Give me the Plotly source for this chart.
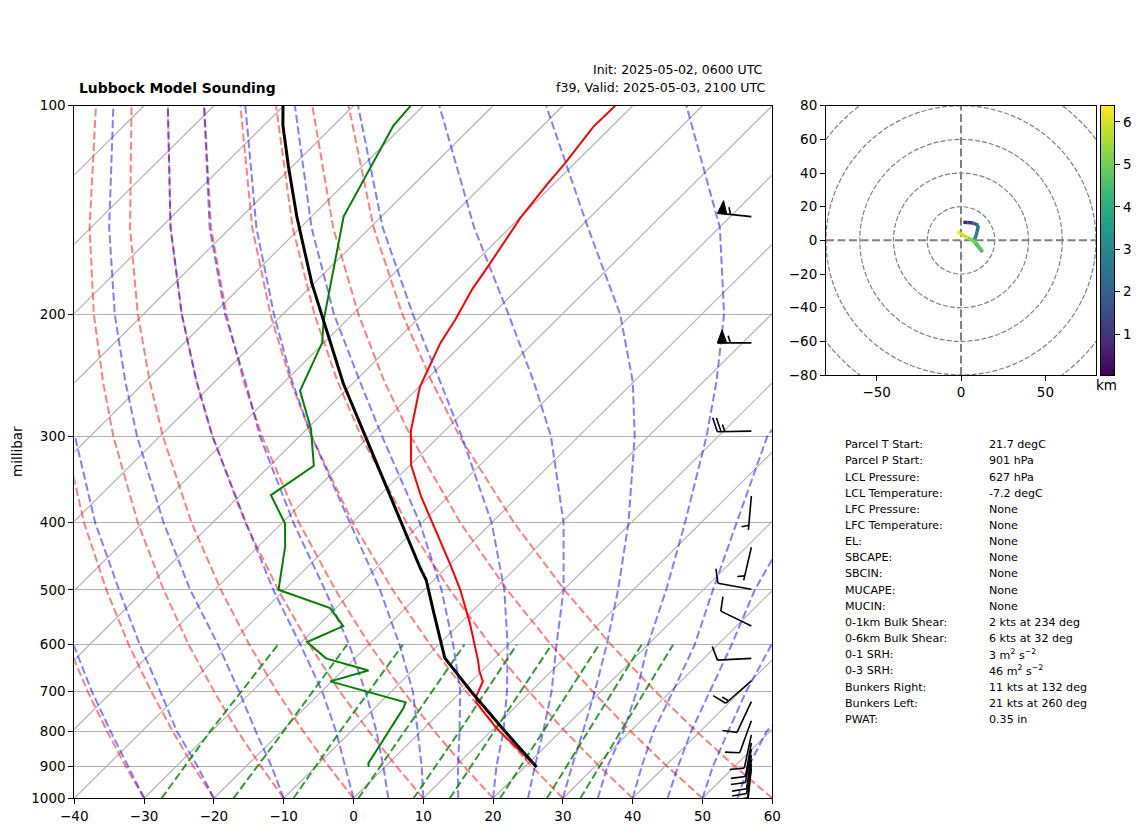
import numpy as np
import plotly.graph_objects as go
from plotly.colors import sample_colorscale

FIG_W = 1126
FIG_H = 816
PAGE_PAD = 8
FONT = "DejaVu Sans"

# sounding traces
TEMP_P = [901, 792.5, 728, 713.4, 678, 656, 631, 559, 500, 460, 366, 330, 295, 254.6, 220, 203.8, 184, 171, 145, 130, 121, 107.2, 100]
TEMP_C = [21.7, 10.4, 3.85, 2.9, 1.66, -0.26, -2.17, -8.58, -14.8, -19.85, -34.0, -39.9, -44.8, -49.9, -53.3, -54.5, -56.5, -57.5, -59.9, -60.9, -61.4, -62.6, -62.5]
DEWP_P = [901, 890, 837.6, 766, 741, 727, 678, 654, 628, 595, 564, 531.5, 500, 433, 401, 365, 331, 293, 258, 220, 204, 144.6, 131, 106.9, 100]
DEWP_C = [-2.35, -2.93, -3.9, -5.36, -5.86, -6.38, -20.2, -16.3, -24.15, -29.2, -26.34, -30.8, -40.85, -46.14, -49.5, -55.6, -53.7, -59.4, -66.5, -70.25, -73.3, -85.4, -87.4, -91.4, -91.8]
PARCEL_P = [901, 800, 700, 627, 535, 484, 465, 355, 300, 251.6, 204, 180.4, 144.6, 122.5, 106.7, 100]
PARCEL_C = [21.7, 12.0, 1.3, -7.2, -15.75, -21.1, -23.7, -40.2, -50.6, -61.4, -73.4, -80.35, -92.1, -100.5, -107.3, -110.1]

# background lines
ISOTHERMS = [-140, -130, -120, -110, -100, -90, -80, -70, -60, -50, -40, -30, -20, -10, 0, 10, 20, 30, 40, 50]
LEVELS = [1000, 900, 800, 700, 600, 500, 400, 300, 250, 200, 150, 100]

DRY_M30 = [-30, -37.2, -45.0, -53.6, -63.1, -73.7]
DRY_M20 = [-20, -27.5, -35.6, -44.5, -54.4, -65.5, -78.4, -93.7]
DRY_M10 = [-10, -17.8, -26.3, -35.5, -45.8, -57.3, -70.7, -86.7, -96.1, -107.1, -120.2, -136.9]
DRY_0 = [0, -8.1, -16.9, -26.5, -37.1, -49.1, -63.0, -79.6, -89.4, -100.8, -114.4, -131.8]
DRY_10 = [10, 1.6, -7.5, -17.5, -28.5, -40.9, -55.3, -72.5, -82.7, -94.5, -108.6, -126.6]
DRY_20 = [20, 11.3, 1.9, -8.4, -19.9, -32.7, -47.6, -65.4, -75.95, -88.1, -102.8, -121.4]
DRY_30 = [30, 21.0, 11.3, 0.6, -11.2, -24.5, -39.9, -58.3, -69.2, -81.8, -96.9, -116.2]
DRY_40 = [40, 30.7, 20.6, 9.6, -2.6, -16.3, -32.2, -51.2, -62.5, -75.5, -91.1, -111.1]
DRY_50 = [50, 40.4, 30.0, 18.7, 6.1, -8.1, -24.5, -44.1, -55.8, -69.2, -85.3, -105.9]
DRY_60 = [60, 50.1, 39.4, 27.7, 14.7, 0.1, -16.8, -37.1, -49, -62.9, -79.5, -100.7]

MOIST_M30 = [-30, -36.9, -44.5, -53, -62.3, -73]
MOIST_M20 = [-20, -26.9, -35, -43.2, -52.8, -63.7, -76.8, -92.2]
MOIST_M10 = [-10, -16.3, -23.7, -31.9, -41.6, -53.5, -67, -83.3, -92.9, -104.1, -117.4, -134.4]
MOIST_0 = [0, -5.8, -12.2, -20, -29.8, -41.6, -55.2, -72.5, -82.7, -94.5, -108.6, -126.6]
MOIST_5 = [5, -0.3, -6.4, -13.8, -22.8, -34.2, -48.4, -65.7, -75.7, -88.3, -103, -121.4]
MOIST_10 = [10, 5.2, -0.5, -7, -15.6, -26.3, -40.3, -58.3, -69, -81.3, -96.3, -115.5]
MOIST_15 = [15, 10.4, 5.5, -0.2, -7.9, -17.5, -30.3, -48.2, -59.3, -72.7, -88.4, -108.4]
MOIST_20 = [20, 15.9, 11.8, 6.5, -0.1, -8.5, -20, -36.8, -47.8, -61.4, -78.2, -99.35]
MOIST_25 = [25, 21.4, 17.5, 12.9, 6.9, 0, -9.7, -24, -34.4, -47.7, -65.1, -87.7]
MOIST_30 = [30, 26.7, 23.2, 19.1, 14.1, 7.8, -0.4, -12, -20.2, -31.7, -48.8, -72.4]
MOIST_35 = [35, 31.8, 29, 25.1, 20, 14.7, 7.7, -1.7, -8.2, -16.8, -29.9, -52.3]
MOIST_40 = [40, 36.7, 33.3, 30.3, 26.7, 21.4, 15.1, 7, 5, -5]
MOIST_45 = [45, 41.9, 38.7, 35.6, 32, 27.4, 23.2]
MOIST_50 = [50, 46.9, 44, 40.8, 37.7, 36]
MOIST_55 = [55, 52, 49.5, 50]

MIX_LEVELS = [1000, 800, 600]
MIX_1 = [-27.5, -30.2, -33.0]
MIX_2 = [-17.2, -19.7, -23.1]
MIX_3 = [-8.6, -11.6, -15.1]
MIX_4 = [0.7, -2.4, -6.3]
MIX_5 = [8.6, 5.5, 1.2]
MIX_6 = [13.8, 10.5, 6.2]
MIX_7 = [21, 17.5, 13]
MIX_8 = [27.7, 23.9, 19.1]
MIX_9 = [32.5, 28.6, 23.6]

# wind barbs
BARB_P = [144.6, 220, 295, 366, 434, 499, 564, 628, 677, 725, 773, 810, 832, 849, 866, 880, 892, 904]
BARB_KT = [55, 55, 25, 5, 5, 10, 10, 10, 15, 10, 10, 10, 10, 10, 10, 10, 10, 10]
BARB_DIR = [276, 270, 269, 185, 193, 280, 296, 267, 229, 205, 200, 192, 190, 190, 188, 188, 186, 186]

# hodograph
HODO_U = [1.4, 4, 7.3, 10.3, 9.5, 8.3, 7.3, 10, 12.8, 9, 4, -0.5, -2]
HODO_V = [10.7, 10.6, 10.3, 8.9, 5, 1, 0, -3.5, -6.9, -1.5, 1.5, 4, 5.3]
HODO_KM = [0.1, 0.6, 1.2, 1.9, 2.3, 2.7, 3.0, 3.6, 4.2, 4.7, 5.2, 5.9, 6.35]
HODO_RINGS = [20, 40, 60, 80, 100]
KM_MIN, KM_MAX = 0.04, 6.38

STAT_LABELS = [
    "Parcel T Start:", "Parcel P Start:", "LCL Pressure:", "LCL Temperature:",
    "LFC Pressure:", "LFC Temperature:", "EL:", "SBCAPE:", "SBCIN:", "MUCAPE:",
    "MUCIN:", "0-1km Bulk Shear:", "0-6km Bulk Shear:", "0-1 SRH:", "0-3 SRH:",
    "Bunkers Right:", "Bunkers Left:", "PWAT:",
]
STAT_VALUES = [
    "21.7 degC", "901 hPa", "627 hPa", "-7.2 degC", "None", "None", "None", "None",
    "None", "None", "None", "2 kts at 234 deg", "6 kts at 32 deg",
    "3 m<sup>2</sup> s<sup>−2</sup>", "46 m<sup>2</sup> s<sup>−2</sup>",
    "11 kts at 132 deg", "21 kts at 260 deg", "0.35 in",
]

PX_PER_DEG = 6.98
PX_PER_DECADE = 692.6
BARB_X = 57


def px_x(px):
    return (px - PAGE_PAD) / FIG_W


def px_y(py):
    return 1 - (py - PAGE_PAD) / FIG_H


def skew(temp, pres):
    return np.asarray(temp, float) + 100 * np.log10(1000 / np.asarray(pres, float))


def add_curve(fig, temp, pres, color, width, dash=None):
    line = {"color": color, "width": width}
    if dash:
        line["dash"] = dash
    fig.add_trace(
        go.Scatter(
            x=skew(temp, pres),
            y=pres,
            mode="lines",
            line=line,
            hoverinfo="skip",
            xaxis="x",
            yaxis="y",
        )
    )


def barb_paths(pres, speed, direction):
    """Return (line x, line y, flag x, flag y) for one barb, drawn in pixel offsets."""
    rad = np.radians(direction)
    sx, sy = np.sin(rad), np.cos(rad)
    nx, ny = np.cos(rad), -np.sin(rad)
    staff = 34.0

    def pt(along, side=0.0):
        dx = sx * along + nx * side
        dy = sy * along + ny * side
        return BARB_X + dx / PX_PER_DEG, pres * 10 ** (-dy / PX_PER_DECADE)

    lx, ly, fx, fy = [], [], [], []

    def stroke(a, b):
        lx.extend([a[0], b[0], None])
        ly.extend([a[1], b[1], None])

    stroke(pt(0), pt(staff))
    pos = staff
    left = speed
    while left >= 50:
        for p in (pt(pos), pt(pos - 4.7, 13), pt(pos - 9.4), pt(pos)):
            fx.append(p[0])
            fy.append(p[1])
        fx.append(None)
        fy.append(None)
        pos -= 13.0
        left -= 50
    while left >= 10:
        stroke(pt(pos), pt(pos + 4.4, 14))
        pos -= 3.7
        left -= 10
    if left >= 5:
        if speed < 10:
            pos -= 4.6
        stroke(pt(pos), pt(pos + 2.2, 7))
    return lx, ly, fx, fy


fig = go.Figure()

for temp in ISOTHERMS:
    add_curve(fig, [temp, temp], [1000, 100], "#b4b4b4", 1.2)

for curve in [DRY_M30, DRY_M20, DRY_M10, DRY_0, DRY_10, DRY_20, DRY_30, DRY_40, DRY_50, DRY_60]:
    add_curve(fig, curve, LEVELS[: len(curve)], "rgba(255,0,0,0.5)", 2, "8px,3.5px")

for curve in [MOIST_M30, MOIST_M20, MOIST_M10, MOIST_0, MOIST_5, MOIST_10, MOIST_15, MOIST_20,
              MOIST_25, MOIST_30, MOIST_35, MOIST_40, MOIST_45, MOIST_50, MOIST_55]:
    add_curve(fig, curve, LEVELS[: len(curve)], "rgba(0,0,255,0.5)", 2, "8px,3.5px")

for curve in [MIX_1, MIX_2, MIX_3, MIX_4, MIX_5, MIX_6, MIX_7, MIX_8, MIX_9]:
    add_curve(fig, curve, MIX_LEVELS, "rgba(0,128,0,0.8)", 2, "8px,3.5px")

add_curve(fig, TEMP_C, TEMP_P, "#ff0000", 2)
add_curve(fig, DEWP_C, DEWP_P, "#008000", 2)
add_curve(fig, PARCEL_C, PARCEL_P, "#000000", 3)

line_x, line_y, flag_x, flag_y = [], [], [], []
for pres, speed, direction in zip(BARB_P, BARB_KT, BARB_DIR):
    lx, ly, fx, fy = barb_paths(pres, speed, direction)
    line_x += lx
    line_y += ly
    flag_x += fx
    flag_y += fy

fig.add_trace(
    go.Scatter(x=flag_x, y=flag_y, mode="lines", fill="toself", fillcolor="#000000",
               line={"color": "#000000", "width": 1}, hoverinfo="skip", xaxis="x", yaxis="y")
)
fig.add_trace(
    go.Scatter(x=line_x, y=line_y, mode="lines", connectgaps=False,
               line={"color": "#000000", "width": 1.6}, hoverinfo="skip", xaxis="x", yaxis="y")
)

# hodograph, one piece per colour
colors = sample_colorscale("Viridis", [(h - KM_MIN) / (KM_MAX - KM_MIN) for h in HODO_KM])
for i in range(len(HODO_U) - 1):
    fig.add_trace(
        go.Scatter(
            x=HODO_U[i: i + 2],
            y=HODO_V[i: i + 2],
            mode="lines",
            line={"color": colors[i + 1], "width": 3.5},
            hoverinfo="skip",
            xaxis="x2",
            yaxis="y2",
        )
    )

# colour ramp in its own small axes
ramp = np.linspace(KM_MIN, KM_MAX, 128)
fig.add_trace(
    go.Heatmap(
        x=[0, 1],
        y=ramp,
        z=[[v, v] for v in ramp],
        colorscale="Viridis",
        zmin=KM_MIN,
        zmax=KM_MAX,
        showscale=False,
        hoverinfo="skip",
        xaxis="x3",
        yaxis="y3",
    )
)

shapes = []
for radius in HODO_RINGS:
    shapes.append(
        {
            "type": "circle", "xref": "x2", "yref": "y2", "layer": "below",
            "x0": -radius, "x1": radius, "y0": -radius, "y1": radius,
            "line": {"color": "#808080", "width": 1.2, "dash": "5px,2px"},
        }
    )
shapes.append({"type": "line", "xref": "x2", "yref": "y2", "x0": -80, "x1": 80, "y0": 0, "y1": 0, "layer": "below",
               "line": {"color": "#808080", "width": 2, "dash": "8px,3.5px"}})
shapes.append({"type": "line", "xref": "x2", "yref": "y2", "x0": 0, "x1": 0, "y0": -80, "y1": 80, "layer": "below",
               "line": {"color": "#808080", "width": 2, "dash": "8px,3.5px"}})


def text_note(px, py, text, size, anchor="left", bold=False, angle=0):
    return {
        "x": px_x(px),
        "y": px_y(py),
        "xref": "paper",
        "yref": "paper",
        "text": f"<b>{text}</b>" if bold else text,
        "showarrow": False,
        "xanchor": anchor,
        "yanchor": "middle",
        "textangle": angle,
        "font": {"family": FONT, "size": size, "color": "#000000"},
    }


notes = [
    text_note(77, 88, "Lubbock Model Sounding", 13.9, bold=True),
    text_note(765, 70, "Init: 2025-05-02, 0600 UTC", 12.5, anchor="right"),
    text_note(767, 88, "f39, Valid: 2025-05-03, 2100 UTC", 12.6, anchor="right"),
    text_note(17, 452, "millibar", 13.5, anchor="center", angle=-90),
    text_note(1106, 385, "km", 13.5, anchor="center"),
]
for i, (label, value) in enumerate(zip(STAT_LABELS, STAT_VALUES)):
    row_y = 444.7 + 16.16 * i
    notes.append(text_note(843, row_y, label, 11.1))
    notes.append(text_note(987, row_y, value, 11.1))

tick_style = {
    "automargin": False,
    "ticks": "outside",
    "ticklen": 5,
    "tickwidth": 1,
    "tickcolor": "#000000",
    "showline": True,
    "linecolor": "#000000",
    "linewidth": 1,
    "mirror": True,
    "zeroline": False,
    "tickfont": {"family": FONT, "size": 13.5, "color": "#000000"},
}

fig.update_layout(
    width=FIG_W,
    height=FIG_H,
    autosize=False,
    margin={"l": 0, "r": 0, "t": 0, "b": 0},
    paper_bgcolor="#ffffff",
    plot_bgcolor="#ffffff",
    showlegend=False,
    font={"family": FONT, "color": "#000000"},
    shapes=shapes,
    annotations=notes,
    xaxis={
        **tick_style,
        "domain": [px_x(74.3), px_x(772.3)],
        "range": [-40, 60],
        "tickvals": [-40, -30, -20, -10, 0, 10, 20, 30, 40, 50, 60],
        "showgrid": False,
        "anchor": "y",
    },
    yaxis={
        **tick_style,
        "domain": [px_y(798.3), px_y(105.7)],
        "type": "log",
        "range": [3, 2],
        "tickvals": [100, 200, 300, 400, 500, 600, 700, 800, 900, 1000],
        "ticktext": ["100", "200", "300", "400", "500", "600", "700", "800", "900", "1000"],
        "showgrid": True,
        "gridcolor": "#b0b0b0",
        "gridwidth": 1,
        "anchor": "x",
    },
    xaxis2={
        **tick_style,
        "domain": [px_x(826), px_x(1096)],
        "range": [-80, 80],
        "tickvals": [-50, 0, 50],
        "showgrid": False,
        "anchor": "y2",
    },
    yaxis2={
        **tick_style,
        "domain": [px_y(375), px_y(105.7)],
        "range": [-80, 80],
        "tickvals": [-80, -60, -40, -20, 0, 20, 40, 60, 80],
        "showgrid": False,
        "anchor": "x2",
    },
    xaxis3={
        **tick_style,
        "domain": [px_x(1100.7), px_x(1114.3)],
        "range": [0, 1],
        "ticks": "",
        "showticklabels": False,
        "showgrid": False,
        "anchor": "y3",
    },
    yaxis3={
        **tick_style,
        "domain": [px_y(375), px_y(105.7)],
        "range": [KM_MIN, KM_MAX],
        "tickvals": [1, 2, 3, 4, 5, 6],
        "side": "right",
        "showgrid": False,
        "anchor": "x3",
    },
)

fig.write_html("out.html")
